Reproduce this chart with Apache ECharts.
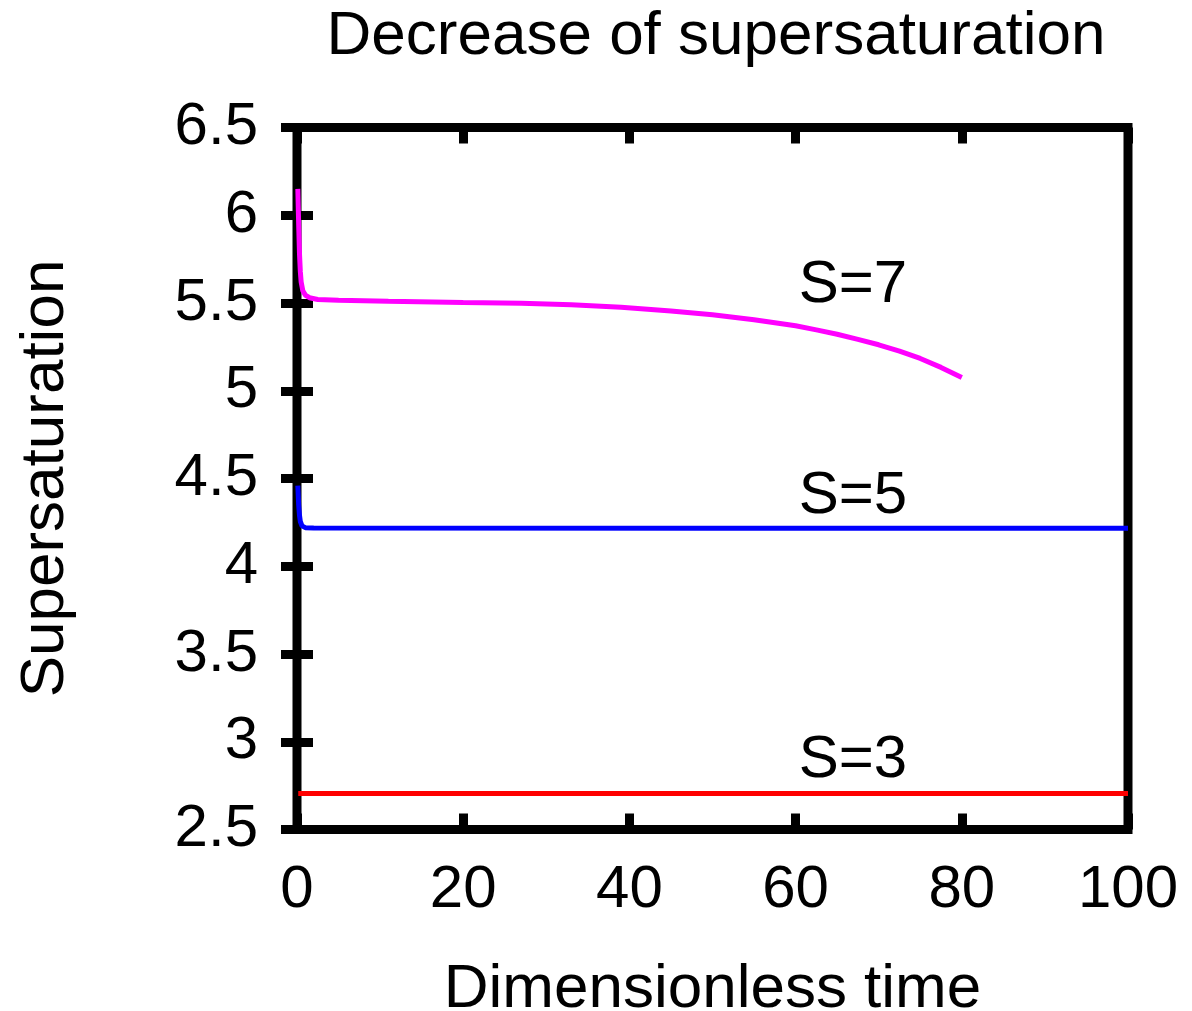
<!DOCTYPE html>
<html>
<head>
<meta charset="utf-8">
<script src="https://cdn.jsdelivr.net/npm/echarts@6/dist/echarts.min.js"></script>
<style>html,body{margin:0;padding:0;background:#fff}#c{width:1192px;height:1011px}</style>
</head>
<body>
<div id="c"></div>
<script>
var titleText = 'Decrease of supersaturation';
var xName = 'Dimensionless time';
var yName = 'Supersaturation';
var xTicks = [0, 20, 40, 60, 80, 100];
var yTicks = [2.5, 3, 3.5, 4, 4.5, 5, 5.5, 6, 6.5];

var s7x = [0.1, 0.2, 0.3, 0.4, 0.5, 0.7, 1.0, 1.5, 2.5, 5, 11, 20, 27, 33, 39, 45, 50, 55, 60, 62.5, 65, 67.5, 70, 72.5, 75, 77.5, 80];
var s7y = [6.15, 5.95, 5.78, 5.68, 5.62, 5.57, 5.545, 5.53, 5.52, 5.515, 5.51, 5.503, 5.499, 5.49, 5.476, 5.455, 5.433, 5.405, 5.37, 5.347, 5.322, 5.293, 5.262, 5.226, 5.184, 5.133, 5.076];

var s5x = [0.1, 0.2, 0.3, 0.4, 0.6, 1, 2, 50, 100];
var s5y = [4.46, 4.35, 4.29, 4.255, 4.23, 4.22, 4.218, 4.217, 4.217];

var s3x = [0.15, 100];
var s3y = [2.705, 2.705];

var labels = ['S=7', 'S=5', 'S=3'];
var labelX = [66.9, 66.9, 66.9];
var labelY = [5.60, 4.40, 2.894];

function pairs(xs, ys) { return xs.map(function (x, i) { return [x, ys[i]]; }); }

var FONT = 'Liberation Sans';
var chart = echarts.init(document.getElementById('c'));

function mk(i) {
  return {
    symbol: 'circle', symbolSize: 0, silent: true, animation: false,
    label: { show: true, position: 'inside', formatter: labels[i], color: '#000', fontSize: 60, fontFamily: FONT },
    data: [{ coord: [labelX[i], labelY[i]] }]
  };
}

var tickStyle = { show: true, inside: true, length: 16, lineStyle: { color: '#000', width: 9 } };

chart.setOption({
  animation: false,
  backgroundColor: '#fff',
  title: {
    text: titleText, left: 711, textAlign: 'center', top: 1,
    textStyle: { fontSize: 62, fontWeight: 'normal', color: '#000', fontFamily: FONT }
  },
  grid: { left: 297, top: 127.5, right: 64, bottom: 181.5, show: true, borderWidth: 9, borderColor: '#000', backgroundColor: 'transparent', outerBoundsMode: 'none', containLabel: false },
  xAxis: [{
    type: 'value', min: 0, max: 100, interval: 20, position: 'bottom',
    name: xName, nameLocation: 'middle', nameGap: 129,
    nameTextStyle: { fontSize: 62, color: '#000', fontFamily: FONT },
    axisLine: { show: false }, splitLine: { show: false },
    axisTick: tickStyle,
    axisLabel: { fontSize: 60, color: '#000', fontFamily: FONT, margin: 31 }
  }, {
    type: 'value', min: 0, max: 100, interval: 20, position: 'top',
    axisLine: { show: false }, splitLine: { show: false },
    axisTick: tickStyle, axisLabel: { show: false }
  }],
  yAxis: [{
    type: 'value', min: 2.5, max: 6.5, interval: 0.5, position: 'left',
    name: yName, nameLocation: 'middle', nameGap: 220,
    nameTextStyle: { fontSize: 62, color: '#000', fontFamily: FONT },
    axisLine: { show: false }, splitLine: { show: false },
    axisTick: tickStyle,
    axisLabel: { fontSize: 60, color: '#000', fontFamily: FONT, margin: 39 }
  }, {
    type: 'value', min: 2.5, max: 6.5, interval: 0.5, position: 'right',
    axisLine: { show: false }, splitLine: { show: false },
    axisTick: tickStyle, axisLabel: { show: false }
  }],
  series: [
    { type: 'line', data: pairs(s7x, s7y), showSymbol: false, clip: false, lineStyle: { color: '#ff00ff', width: 5 }, itemStyle: { color: '#ff00ff' }, markPoint: mk(0) },
    { type: 'line', data: pairs(s5x, s5y), showSymbol: false, clip: false, lineStyle: { color: '#0000ff', width: 5 }, itemStyle: { color: '#0000ff' }, markPoint: mk(1) },
    { type: 'line', data: pairs(s3x, s3y), showSymbol: false, clip: false, lineStyle: { color: '#ff0000', width: 5 }, itemStyle: { color: '#ff0000' }, markPoint: mk(2) }
  ]
});
</script>
</body>
</html>
